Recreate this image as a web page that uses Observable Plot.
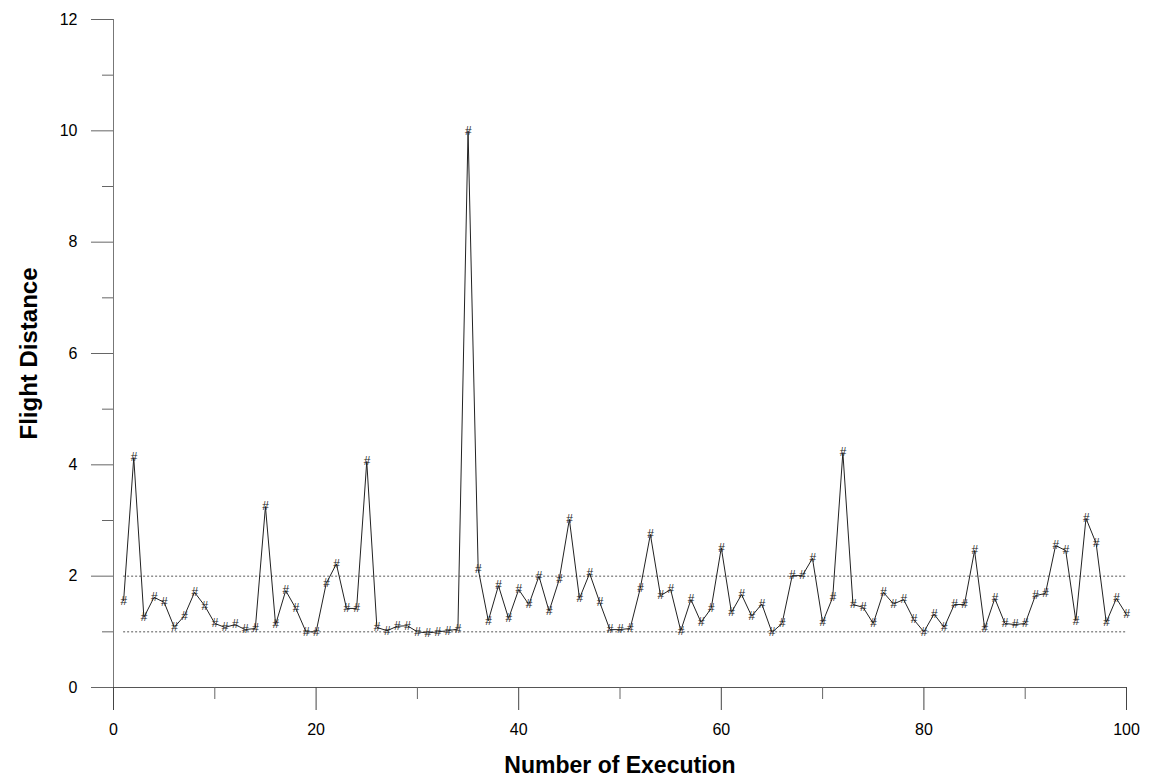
<!DOCTYPE html>
<html>
<head>
<meta charset="utf-8">
<script src="https://cdn.jsdelivr.net/npm/d3@7"></script>
<script src="https://cdn.jsdelivr.net/npm/@observablehq/plot@0.6"></script>
<style>
  html, body { margin: 0; padding: 0; background: #fff; }
  #chart svg { display: block; }
</style>
</head>
<body>
<div id="chart"></div>
<script>
// Execution number (x) and flight distance (y)
const executions = [
  1,2,3,4,5,6,7,8,9,10,11,12,13,14,15,16,17,18,19,20,
  21,22,23,24,25,26,27,28,29,30,31,32,33,34,35,36,37,38,39,40,
  41,42,43,44,45,46,47,48,49,50,51,52,53,54,55,56,57,58,59,60,
  61,62,63,64,65,66,67,68,69,70,71,72,73,74,75,76,77,78,79,80,
  81,82,83,84,85,86,87,88,89,90,91,92,93,94,95,96,97,98,99,100
];
const flightDistance = [
  1.56,4.13,1.26,1.62,1.53,1.08,1.29,1.71,1.47,1.15,
  1.08,1.13,1.04,1.06,3.25,1.13,1.74,1.42,1.00,1.00,
  1.87,2.22,1.42,1.42,4.06,1.08,1.02,1.10,1.11,1.00,
  0.98,1.00,1.02,1.05,10.0,2.13,1.20,1.83,1.24,1.76,
  1.49,2.00,1.37,1.94,3.02,1.60,2.05,1.53,1.04,1.04,
  1.06,1.78,2.75,1.65,1.76,1.02,1.58,1.17,1.42,2.51,
  1.35,1.67,1.28,1.50,0.99,1.15,2.01,2.01,2.32,1.17,
  1.62,4.22,1.49,1.44,1.15,1.71,1.50,1.58,1.22,1.00,
  1.32,1.08,1.49,1.49,2.46,1.06,1.60,1.15,1.13,1.15,
  1.65,1.69,2.55,2.46,1.20,3.04,2.59,1.17,1.60,1.31
];
const referenceLevels = [1, 2];
const xMajorTicks = [0, 20, 40, 60, 80, 100];
const xMinorTicks = [10, 30, 50, 70, 90];
const yMajorTicks = [0, 2, 4, 6, 8, 10, 12];
const yMinorTicks = [1, 3, 5, 7, 9, 11];
const xTitle = "Number of Execution";
const yTitle = "Flight Distance";

const data = executions.map((x, i) => ({x, y: flightDistance[i]}));
const xFirst = d3.min(executions), xLast = d3.max(executions);

const font = "'Liberation Sans', Arial, Helvetica, sans-serif";

const chart = Plot.plot({
  width: 1150,
  height: 782,
  marginLeft: 113,
  marginRight: 24,
  marginTop: 19,
  marginBottom: 95,
  style: {fontFamily: font, background: "#fff", color: "#000"},
  x: {domain: [0, 100]},
  y: {domain: [0, 12]},
  marks: [
    Plot.ruleY(referenceLevels, {x1: xFirst, x2: xLast, stroke: "#555", strokeWidth: 1, strokeDasharray: "2,2"}),
    Plot.ruleX([0], {stroke: "#777", strokeWidth: 1}),
    Plot.ruleY([0], {stroke: "#555", strokeWidth: 1.2}),
    Plot.axisY({ticks: yMajorTicks, tickSize: 22, tickPadding: 14, fontSize: 16, label: null, stroke: "#666"}),
    Plot.axisY({ticks: yMinorTicks, tickSize: 11, text: null, label: null, stroke: "#666"}),
    Plot.axisX({ticks: xMajorTicks, tickSize: 23, tickPadding: 13, fontSize: 16, label: null, stroke: "#444"}),
    Plot.axisX({ticks: xMinorTicks, tickSize: 12, text: null, label: null, stroke: "#666"}),
    Plot.line(data, {x: "x", y: "y", stroke: "#222", strokeWidth: 1}),
    Plot.text(data, {x: "x", y: "y", text: () => "#", fontSize: 12, fontStyle: "italic", fill: "#222"}),
    Plot.text([yTitle], {frameAnchor: "left", textAnchor: "middle", lineAnchor: "middle", rotate: -90, dx: -84, fontSize: 24, fontWeight: "bold", fill: "#000"}),
    Plot.text([xTitle], {frameAnchor: "bottom", textAnchor: "middle", lineAnchor: "middle", dy: 78, fontSize: 23, fontWeight: "bold", fill: "#000"})
  ]
});
document.getElementById("chart").appendChild(chart);
</script>
</body>
</html>
